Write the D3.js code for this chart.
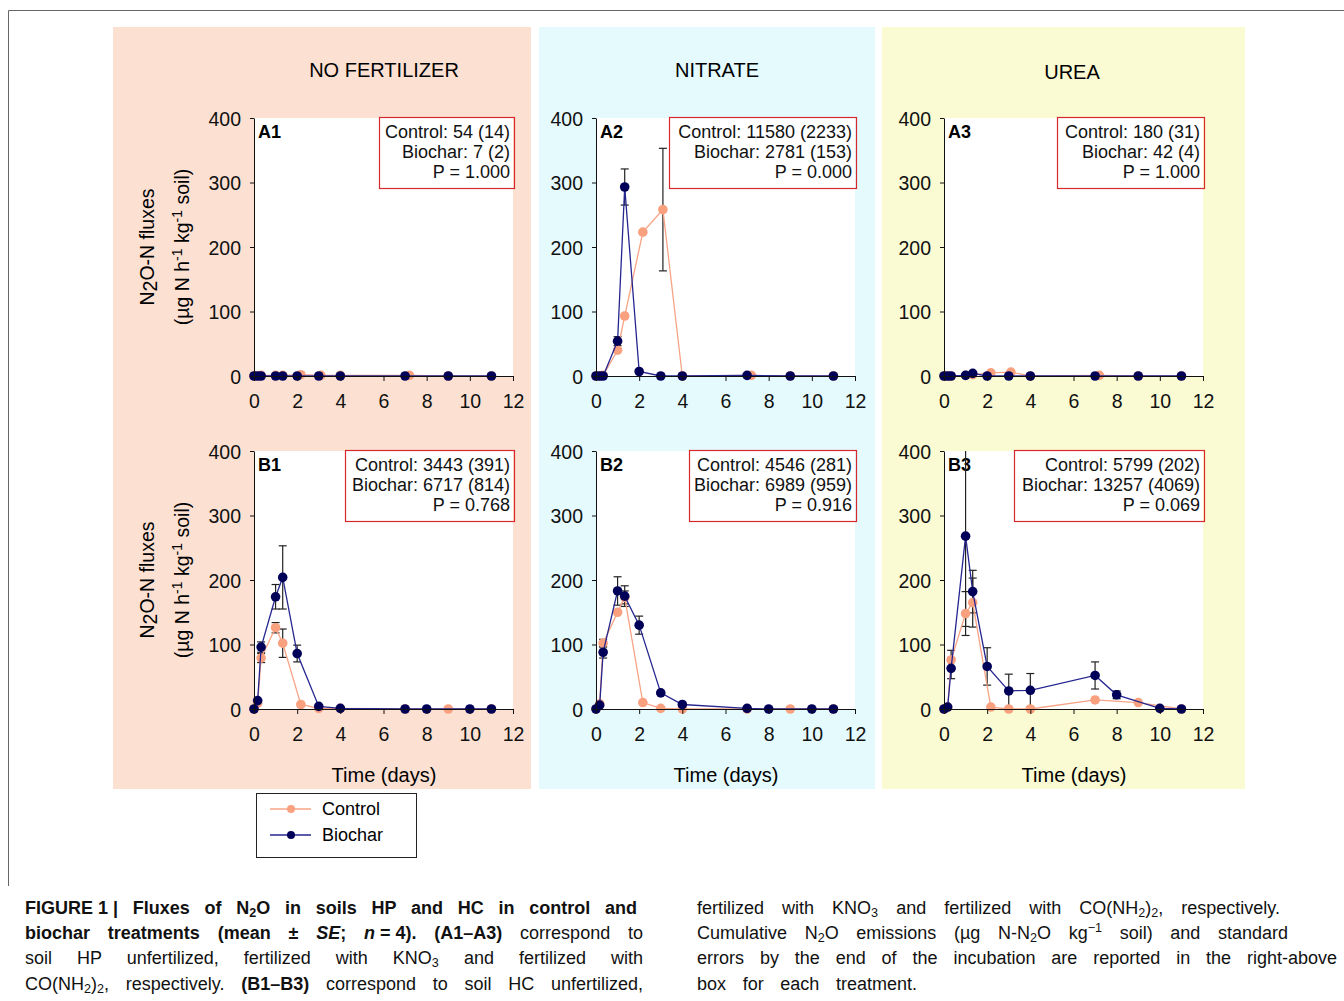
<!DOCTYPE html>
<html>
<head>
<meta charset="utf-8">
<script src="https://cdn.jsdelivr.net/npm/d3@7"></script>
<style>
	body { margin: 0; background: #fff; }
	#chart { position: absolute; left: 0; top: 0; }
	.cap {
		position: absolute;
		font-family: "Liberation Sans", Arial, sans-serif;
		font-size: 18px;
		line-height: 20px;
		color: #111;
		text-align: justify;
		text-align-last: justify;
	}
	.cap sub, .cap sup { font-size: 0.7em; line-height: 0; }
	.cap sub { vertical-align: -0.25em; }
	.cap sup { vertical-align: 0.55em; }
	.keep { display: inline-block; }
</style>
</head>
<body>
<svg id="chart" width="1344" height="1001"></svg>
<div class="cap" style="left:25px;top:898px;width:612px"><b><span class="keep">FIGURE 1 |</span> Fluxes of N<sub>2</sub>O in soils HP and HC in control and</b></div>
<div class="cap" style="left:25px;top:923px;width:618px"><b>biochar treatments (mean ± <i>SE</i>; <span class="keep"><i>n</i> = 4).</span> (A1–A3)</b> correspond to</div>
<div class="cap" style="left:25px;top:948px;width:618px">soil HP unfertilized, fertilized with KNO<sub>3</sub> and fertilized with</div>
<div class="cap" style="left:25px;top:974px;width:618px">CO(NH<sub>2</sub>)<sub>2</sub>, respectively. <b>(B1–B3)</b> correspond to soil HC unfertilized,</div>
<div class="cap" style="left:697px;top:898px;width:583px">fertilized with KNO<sub>3</sub> and fertilized with CO(NH<sub>2</sub>)<sub>2</sub>, respectively.</div>
<div class="cap" style="left:697px;top:923px;width:591px">Cumulative N<sub>2</sub>O emissions (µg N-N<sub>2</sub>O kg<sup>−1</sup> soil) and standard</div>
<div class="cap" style="left:697px;top:948px;width:640px">errors by the end of the incubation are reported in the right-above</div>
<div class="cap" style="left:697px;top:974px;width:220px">box for each treatment.</div>
<script>
// sampling times (days)
const timesAControl = [0, 0.17, 0.33, 1, 1.33, 2.17, 3.1, 4, 7.2, 9, 11];
const timesABiochar = [0, 0.17, 0.33, 1, 1.33, 2, 3, 4, 7, 9, 11];
const timesBControl = [0, 0.17, 0.33, 1, 1.33, 2.17, 3, 4, 7, 9, 11];
const timesBBiochar = [0, 0.17, 0.33, 1, 1.33, 2, 3, 4, 7, 8, 10, 11];

// N2O-N fluxes, mean and SE
const a1Control = [0, 0, 1, 1, 1, 2, 1, 1, 1, 0, 0];
const a1ControlSE = [0, 0, 0, 0, 0, 0, 0, 0, 0, 0, 0];
const a1Biochar = [0, 0, 0, 0, 0, 0, 0, 0, 0, 0, 0];
const a1BiocharSE = [0, 0, 0, 0, 0, 0, 0, 0, 0, 0, 0];

const a2Control = [0, 0, 1, 40, 93, 223, 258, 0, 1, 0, 0];
const a2ControlSE = [0, 0, 0, 0, 0, 0, 95, 0, 0, 0, 0];
const a2Biochar = [0, 0, 0, 54, 293, 7, 0, 0, 1, 0, 0];
const a2BiocharSE = [0, 0, 0, 7, 28, 0, 0, 0, 0, 0, 0];

const a3Control = [0, 0, 0, 1, 2, 5, 6, 0, 1, 0, 0];
const a3ControlSE = [0, 0, 0, 0, 0, 0, 0, 0, 0, 0, 0];
const a3Biochar = [0, 0, 0, 1, 4, 0, 0, 0, 0, 0, 0];
const a3BiocharSE = [0, 0, 0, 0, 0, 0, 0, 0, 0, 0, 0];

const b1Control = [0, 9, 79, 126, 102, 7, 1, 1, 0, 0, 0];
const b1ControlSE = [0, 0, 7, 8, 22, 0, 0, 0, 0, 0, 0];
const b1Biochar = [0, 13, 96, 174, 204, 86, 4, 1, 0, 0, 0, 0];
const b1BiocharSE = [0, 0, 8, 19, 49, 13, 0, 0, 0, 0, 0, 0];

const b2Control = [0, 8, 102, 150, 173, 10, 1, 0, 0, 0, 0];
const b2ControlSE = [0, 0, 6, 0, 10, 0, 0, 0, 0, 0, 0];
const b2Biochar = [0, 6, 88, 183, 175, 130, 25, 7, 1, 0, 0, 0];
const b2BiocharSE = [0, 0, 9, 22, 16, 14, 0, 0, 0, 0, 0, 0];

const b3Control = [0, 3, 76, 148, 165, 3, 0, 0, 14, 10, 0];
const b3ControlSE = [0, 0, 15, 34, 38, 0, 0, 0, 0, 0, 0];
const b3Biochar = [0, 3, 63, 268, 182, 66, 28, 29, 52, 22, 1, 0];
const b3BiocharSE = [0, 0, 16, 140, 33, 29, 26, 26, 21, 6, 0, 0];

const boxTexts = {
	A1: ['Control: 54 (14)', 'Biochar: 7 (2)', 'P = 1.000'],
	A2: ['Control: 11580 (2233)', 'Biochar: 2781 (153)', 'P = 0.000'],
	A3: ['Control: 180 (31)', 'Biochar: 42 (4)', 'P = 1.000'],
	B1: ['Control: 3443 (391)', 'Biochar: 6717 (814)', 'P = 0.768'],
	B2: ['Control: 4546 (281)', 'Biochar: 6989 (959)', 'P = 0.916'],
	B3: ['Control: 5799 (202)', 'Biochar: 13257 (4069)', 'P = 0.069'],
};

const columnTitles = ['NO FERTILIZER', 'NITRATE', 'UREA'];
const xTicks = [0, 2, 4, 6, 8, 10, 12];
const yTicks = [0, 100, 200, 300, 400];

const colors = {
	control: '#f9a07f',
	controlLine: '#f7a486',
	biochar: '#000058',
	biocharLine: '#262690',
	box: '#d8282c',
	bg: ['#fce1d3', '#e5fafd', '#fafbd3'],
};

const font = '"Liberation Sans", Arial, sans-serif';
const svg = d3.select('#chart');

// outer frame
svg.append('path')
	.attr('d', 'M8.5,886 V10.5 H1344')
	.attr('fill', 'none')
	.attr('stroke', '#666')
	.attr('stroke-width', 1);

// column backgrounds
const columns = [
	{ x0: 113, x1: 531, plotX: 254, titleX: 384, titleY: 77 },
	{ x0: 539, x1: 875, plotX: 596, titleX: 717, titleY: 77 },
	{ x0: 882, x1: 1245, plotX: 944, titleX: 1072, titleY: 79 },
];
const rows = [{ top: 118 }, { top: 451 }];
const plotW = 259;
const plotH = 258;

columns.forEach((c, i) => {
	svg.append('rect')
		.attr('x', c.x0)
		.attr('y', 27)
		.attr('width', c.x1 - c.x0)
		.attr('height', 762)
		.attr('fill', colors.bg[i]);
	svg.append('text')
		.attr('x', c.titleX)
		.attr('y', c.titleY)
		.attr('text-anchor', 'middle')
		.attr('font-family', font)
		.attr('font-size', 20)
		.text(columnTitles[i]);
	svg.append('text')
		.attr('x', c.plotX + 130)
		.attr('y', 782)
		.attr('text-anchor', 'middle')
		.attr('font-family', font)
		.attr('font-size', 20)
		.text('Time (days)');
});

// y axis titles
rows.forEach(r => {
	let cy = r.top + 129;
	let g = svg.append('g')
		.attr('transform', `translate(0,${cy}) rotate(-90)`)
		.attr('font-family', font)
		.attr('font-size', 19.5)
		.attr('text-anchor', 'middle');
	let t1 = g.append('text').attr('x', 0).attr('y', 154);
	t1.append('tspan').text('N');
	t1.append('tspan').attr('dy', 3).text('2');
	t1.append('tspan').attr('dy', -3).text('O-N fluxes');
	let t2 = g.append('text').attr('x', 0).attr('y', 189);
	t2.append('tspan').text('(µg N h');
	t2.append('tspan').attr('dy', -7).attr('font-size', 14).text('-1');
	t2.append('tspan').attr('dy', 7).text(' kg');
	t2.append('tspan').attr('dy', -7).attr('font-size', 14).text('-1');
	t2.append('tspan').attr('dy', 7).text(' soil)');
});

const panels = [
	{ id: 'A1', col: 0, row: 0, tc: timesAControl, tb: timesABiochar, c: a1Control, cse: a1ControlSE, b: a1Biochar, bse: a1BiocharSE, boxX: 379 },
	{ id: 'A2', col: 1, row: 0, tc: timesAControl, tb: timesABiochar, c: a2Control, cse: a2ControlSE, b: a2Biochar, bse: a2BiocharSE, boxX: 669 },
	{ id: 'A3', col: 2, row: 0, tc: timesAControl, tb: timesABiochar, c: a3Control, cse: a3ControlSE, b: a3Biochar, bse: a3BiocharSE, boxX: 1057 },
	{ id: 'B1', col: 0, row: 1, tc: timesBControl, tb: timesBBiochar, c: b1Control, cse: b1ControlSE, b: b1Biochar, bse: b1BiocharSE, boxX: 345 },
	{ id: 'B2', col: 1, row: 1, tc: timesBControl, tb: timesBBiochar, c: b2Control, cse: b2ControlSE, b: b2Biochar, bse: b2BiocharSE, boxX: 689 },
	{ id: 'B3', col: 2, row: 1, tc: timesBControl, tb: timesBBiochar, c: b3Control, cse: b3ControlSE, b: b3Biochar, bse: b3BiocharSE, boxX: 1014 },
];

panels.forEach(p => {
	const left = columns[p.col].plotX;
	const top = rows[p.row].top;
	const x = d3.scaleLinear().domain([0, 12]).range([left, left + plotW]);
	const y = d3.scaleLinear().domain([0, 400]).range([top + plotH, top]);

	svg.append('rect')
		.attr('x', x(0))
		.attr('y', y(400))
		.attr('width', x(12) - x(0))
		.attr('height', y(0) - y(400))
		.attr('fill', '#fff');

	svg.append('clipPath').attr('id', `clip${p.id}`)
		.append('rect')
		.attr('x', x(0) - 8)
		.attr('y', y(400))
		.attr('width', x(12) - x(0) + 16)
		.attr('height', y(0) - y(400) + 10);

	// red info box
	const bx = p.boxX;
	const bw = x(12) + 1 - bx;
	svg.append('rect')
		.attr('x', bx + 0.5)
		.attr('y', top - 0.5)
		.attr('width', bw)
		.attr('height', 71)
		.attr('fill', 'none')
		.attr('stroke', colors.box)
		.attr('stroke-width', 1.2);
	boxTexts[p.id].forEach((line, k) => {
		svg.append('text')
			.attr('x', bx + bw - 4)
			.attr('y', top + 20 + k * 20)
			.attr('text-anchor', 'end')
			.attr('font-family', font)
			.attr('font-size', 18)
			.attr('fill', '#111')
			.text(line);
	});

	svg.append('text')
		.attr('x', x(0) + 4)
		.attr('y', top + 20)
		.attr('font-family', font)
		.attr('font-size', 18)
		.attr('font-weight', 'bold')
		.text(p.id);

	const series = [
		{ t: p.tc, v: p.c, se: p.cse, dot: colors.control, line: colors.controlLine },
		{ t: p.tb, v: p.b, se: p.bse, dot: colors.biochar, line: colors.biocharLine },
	];

	const g = svg.append('g').attr('clip-path', `url(#clip${p.id})`);

	// error bars
	series.forEach(s => {
		s.v.forEach((v, i) => {
			const e = s.se[i];
			if (!e) {
				return;
			}
			const cx = x(s.t[i]);
			g.append('line')
				.attr('x1', cx).attr('x2', cx)
				.attr('y1', y(v - e)).attr('y2', y(v + e))
				.attr('stroke', '#222').attr('stroke-width', 1.2);
			[v - e, v + e].forEach(end => {
				g.append('line')
					.attr('x1', cx - 4).attr('x2', cx + 4)
					.attr('y1', y(end)).attr('y2', y(end))
					.attr('stroke', '#222').attr('stroke-width', 1.2);
			});
		});
	});

	series.forEach(s => {
		const pts = s.t.map((t, i) => [t, s.v[i]]);
		g.append('path')
			.attr('d', d3.line().x(d => x(d[0])).y(d => y(d[1]))(pts))
			.attr('fill', 'none')
			.attr('stroke', s.line)
			.attr('stroke-width', 1.3);
		g.selectAll(null)
			.data(pts)
			.join('circle')
			.attr('cx', d => x(d[0]))
			.attr('cy', d => y(d[1]))
			.attr('r', 4.8)
			.attr('fill', s.dot);
	});

	const xAxis = svg.append('g')
		.attr('transform', `translate(0,${y(0)})`)
		.call(d3.axisBottom(x).tickValues(xTicks).tickSize(5).tickSizeOuter(0).tickPadding(13));
	const yAxis = svg.append('g')
		.attr('transform', `translate(${x(0)},0)`)
		.call(d3.axisLeft(y).tickValues(yTicks).tickSize(4).tickSizeOuter(0).tickPadding(9));
	[xAxis, yAxis].forEach(a => {
		a.selectAll('text')
			.attr('font-family', font)
			.attr('font-size', 19.5)
			.attr('fill', '#111');
		a.selectAll('path, line').attr('stroke', '#111');
	});
	yAxis.selectAll('text').attr('dy', '0.36em');
});

// legend
const legend = svg.append('g').attr('font-family', font).attr('font-size', 18);
legend.append('rect')
	.attr('x', 256.5).attr('y', 793.5)
	.attr('width', 160).attr('height', 64)
	.attr('fill', '#fff').attr('stroke', '#222');
[
	{ label: 'Control', dot: colors.control, line: colors.controlLine, y: 809 },
	{ label: 'Biochar', dot: colors.biochar, line: colors.biocharLine, y: 835 },
].forEach(d => {
	legend.append('line')
		.attr('x1', 270).attr('x2', 311)
		.attr('y1', d.y).attr('y2', d.y)
		.attr('stroke', d.line).attr('stroke-width', 1.3);
	legend.append('circle')
		.attr('cx', 291).attr('cy', d.y).attr('r', 4)
		.attr('fill', d.dot);
	legend.append('text')
		.attr('x', 322).attr('y', d.y + 6)
		.text(d.label);
});
</script>
</body>
</html>
